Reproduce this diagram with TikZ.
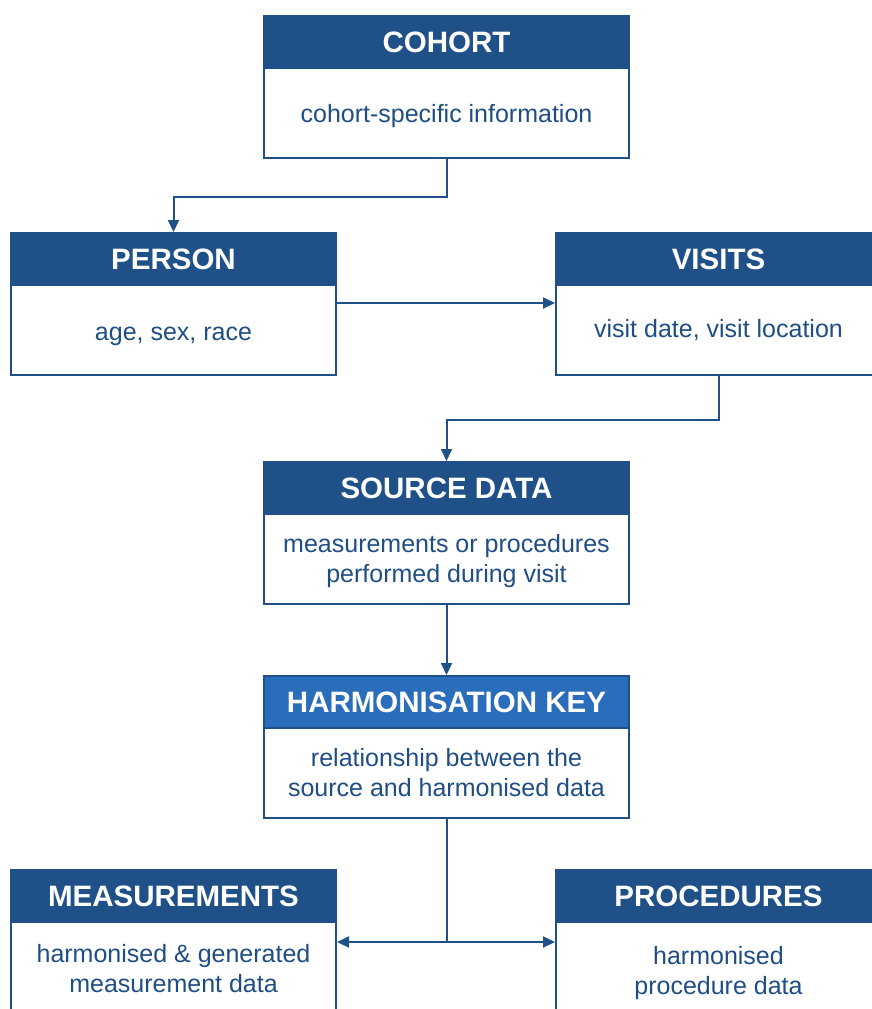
\documentclass[tikz,border=0pt]{standalone}
\usepackage{fontspec}
\setmainfont{Liberation Sans}
\usetikzlibrary{arrows.meta}
\definecolor{hblue}{RGB}{31,81,136}
\definecolor{kblue}{RGB}{42,110,187}
\definecolor{tblue}{RGB}{31,78,133}
\tikzset{
  boxline/.style={line width=2pt},
  hdr/.style={boxline, draw=hblue, fill=hblue, text=white, anchor=north west, inner sep=0pt,
    minimum height=52pt, font=\bfseries\fontsize{29.5}{35}\selectfont},
  keyhdr/.style={hdr, fill=kblue},
  bdy/.style={boxline, draw=hblue, fill=white, text=tblue, anchor=north west, inner sep=0pt,
    minimum height=90pt, align=center, font=\fontsize{25}{30}\selectfont},
  wide/.style={minimum width=365pt},
  narrow/.style={minimum width=325pt},
  conn/.style={line width=2pt, draw=hblue},
  arr/.style={conn, -{Triangle[length=12pt,width=11pt]}}
}
\begin{document}
\begin{tikzpicture}[x=1pt,y=-1pt]
\useasboundingbox (0,0) rectangle (872,1009);
\clip (0,0) rectangle (872,1009);
% COHORT
\node[hdr,wide] (cohortH) at (263,15) {COHORT};
\node[bdy,wide,text height=19.4pt,text depth=0pt] (cohortB) at (263,67) {cohort-specific information};
% PERSON
\node[hdr,narrow] (personH) at (10,232) {PERSON};
\node[bdy,narrow,text height=20.6pt,text depth=0pt] (personB) at (10,284) {age, sex, race};
% VISITS
\node[hdr,narrow] (visitsH) at (555,232) {VISITS};
\node[bdy,narrow,text height=15.4pt,text depth=0pt] (visitsB) at (555,284) {visit date, visit location};
% SOURCE DATA
\node[hdr,wide] (sourceH) at (263,461) {SOURCE DATA};
\node[bdy,wide,text depth=1.3pt] (sourceB) at (263,513) {measurements or procedures\\performed during visit};
% HARMONISATION KEY
\node[keyhdr,wide] (harmH) at (263,675) {HARMONISATION KEY};
\node[bdy,wide] (harmB) at (263,727) {relationship between the\\source and harmonised data};
% MEASUREMENTS
\node[hdr,narrow] (measH) at (10,869) {MEASUREMENTS};
\node[bdy,narrow,minimum height=94pt] (measB) at (10,921) {harmonised \& generated\\measurement data};
% PROCEDURES
\node[hdr,narrow] (procH) at (555,869) {PROCEDURES};
\node[bdy,narrow,minimum height=102pt] (procB) at (555,921) {harmonised\\procedure data};
% connectors
\draw[arr] (cohortB.south) -- ++(0,38) -| (personH.north);
\draw[arr] ([yshift=-19pt]personB.north east) -- ([yshift=-19pt]visitsB.north west);
\draw[arr] (visitsB.south) -- ++(0,44) -| (sourceH.north);
\draw[arr] (sourceB.south) -- (harmH.north);
\draw[conn] (harmB.south) -- ++(0,123) coordinate (split);
\draw[arr] (split) -- (split -| measB.east);
\draw[arr] (split) -- (split -| procB.west);
\end{tikzpicture}
\end{document}
